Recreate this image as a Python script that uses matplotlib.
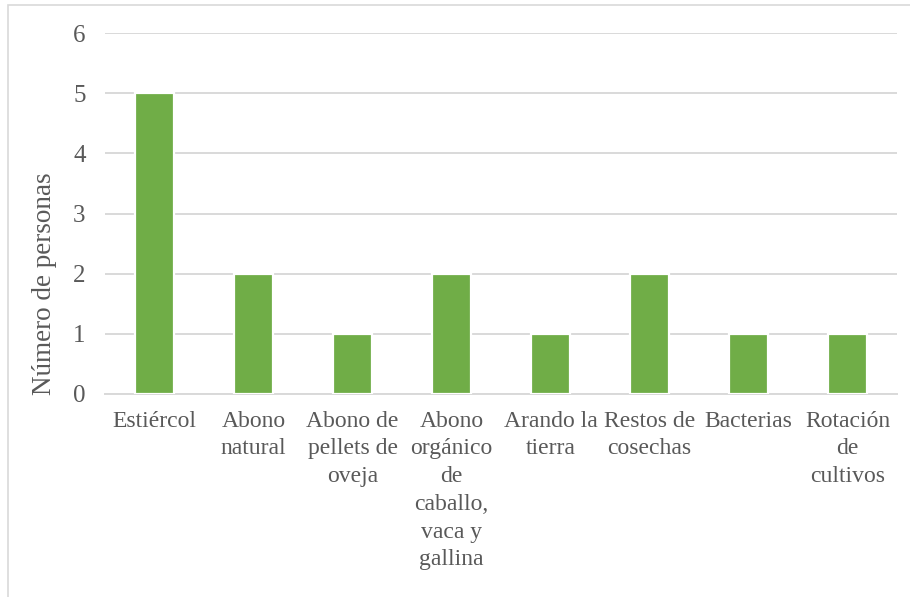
import matplotlib.pyplot as plt
import matplotlib.patches as patches
import numpy as np

plt.rcParams['font.family'] = ['Liberation Serif', 'DejaVu Serif']

# Practicas de fertilizacion y numero de personas que las usan
categorias = [
    "Estiércol",
    "Abono\nnatural",
    "Abono de\npellets de\noveja",
    "Abono\norgánico\nde\ncaballo,\nvaca y\ngallina",
    "Arando la\ntierra",
    "Restos de\ncosechas",
    "Bacterias",
    "Rotación\nde\ncultivos",
]
personas = [5, 2, 1, 2, 1, 2, 1, 1]
y_ticks = [0, 1, 2, 3, 4, 5, 6]

verde = '#70AD47'
gris_texto = '#595959'
gris_linea = '#D9D9D9'

W, H = 910, 597
fig = plt.figure(figsize=(W / 100, H / 100), dpi=100)

# area de trazado en pixeles
x0, x1 = 105, 897
y_top, y_bot = 33, 394
ax = fig.add_axes([x0 / W, 1 - y_bot / H, (x1 - x0) / W, (y_bot - y_top) / H])

x = np.arange(len(categorias))
ax.bar(x, personas, width=0.39, color=verde, edgecolor='white', linewidth=1.6, zorder=3)

ax.set_xlim(-0.5, len(categorias) - 0.5)
ax.set_ylim(0, 6)
ax.set_yticks(y_ticks)
ax.set_yticklabels([str(v) for v in y_ticks], fontsize=18, color=gris_texto)
ax.yaxis.grid(True, color=gris_linea, linewidth=1.4, zorder=0)
ax.set_axisbelow(True)

ax.set_xticks(x)
ax.set_xticklabels(categorias, fontsize=17, color=gris_texto, linespacing=1.42)
ax.tick_params(axis='x', length=0, pad=12)
ax.tick_params(axis='y', length=0, pad=14)

for s in ax.spines.values():
    s.set_visible(False)
ax.spines['bottom'].set_visible(True)
ax.spines['bottom'].set_color(gris_linea)
ax.spines['bottom'].set_linewidth(1.4)

fig.text(45 / W, 1 - 284 / H, "Número de personas", rotation=90, fontsize=19.5,
         color=gris_texto, ha='center', va='center')

# borde del grafico
borde = patches.Rectangle((8 / W, -0.1), 1.2, 1 - 5 / H + 0.1, transform=fig.transFigure,
                          fill=False, edgecolor=gris_linea, linewidth=1.2)
fig.patches.append(borde)

fig.savefig('out.png', dpi=100)
